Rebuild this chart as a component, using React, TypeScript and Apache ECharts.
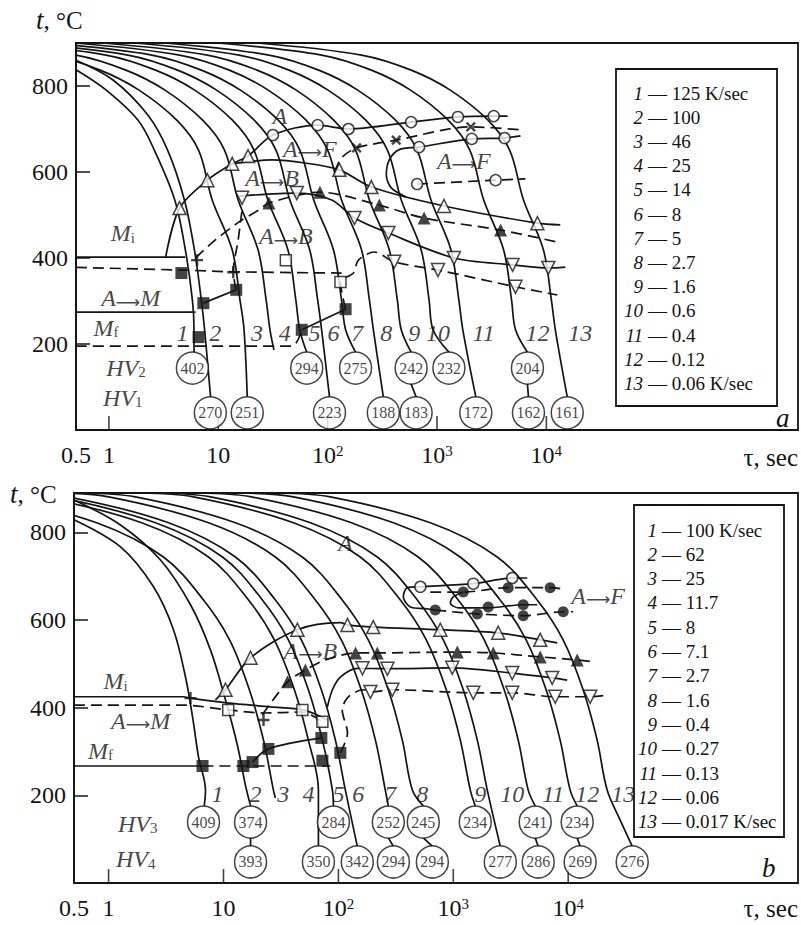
import { useEffect, useRef } from 'react';
import * as echarts from 'echarts';

const SERIF = '"Liberation Serif", "Times New Roman", serif';
const INK = '#141414';

type Pt = [number, number];

// ---------------- Panel a ----------------
// Cooling curves 1..13: [time, s ; temperature, °C]
const coolingA: Pt[][] = [
  [[0.5, 838], [0.94, 791], [1.84, 721], [2.6, 651], [4.0, 535], [5.0, 419], [5.8, 302], [6.0, 233], [6.0, 181]],
  [[0.5, 860], [1.09, 814], [2.26, 733], [3.44, 651], [4.9, 535], [6.05, 419], [7.0, 302], [7.5, 233], [8.5, 77]],
  [[0.032, 900], [0.29, 872], [0.83, 837], [1.87, 791], [4.15, 721], [6.6, 651], [8.8, 535], [13.4, 419], [15.8, 302], [17.2, 233], [18.4, 77]],
  [[0.056, 900], [0.5, 872], [1.43, 837], [3.23, 791], [7.16, 721], [11.4, 651], [15.2, 535], [23.1, 419], [27.4, 302], [29.7, 233], [32.3, 186]],
  [[0.104, 900], [0.94, 872], [2.67, 837], [6.04, 791], [13.4, 721], [21.2, 651], [28.4, 535], [43.3, 419], [51.2, 302], [55.6, 233], [64.4, 181]],
  [[0.165, 900], [1.49, 872], [4.24, 837], [9.57, 791], [21.2, 721], [33.7, 651], [45.1, 535], [68.5, 419], [81.1, 302], [88.1, 233], [104, 77]],
  [[0.274, 900], [2.46, 872], [7.0, 837], [15.8, 791], [35.2, 721], [55.7, 651], [74.6, 535], [113, 419], [134, 302], [146, 233], [180, 181]],
  [[0.49, 900], [4.42, 872], [12.6, 837], [28.4, 791], [63.1, 721], [100, 651], [134, 535], [204, 419], [241, 302], [262, 233], [323, 77]],
  [[0.88, 900], [7.94, 872], [22.6, 837], [51.2, 791], [113, 721], [180, 651], [241, 535], [366, 419], [434, 302], [471, 233], [580, 181]],
  [[1.73, 900], [15.5, 872], [44.3, 837], [100, 791], [222, 721], [352, 651], [471, 535], [716, 419], [847, 302], [920, 233], [1285, 181]],
  [[3.23, 900], [29, 872], [82.8, 837], [187, 791], [415, 721], [658, 651], [881, 535], [1340, 419], [1585, 302], [1722, 233], [2265, 77]],
  [[9.8, 900], [88, 872], [251, 837], [568, 791], [1259, 721], [1995, 651], [2673, 535], [4064, 419], [4808, 302], [5224, 233], [6714, 181]],
  [[22.6, 900], [204, 872], [581, 837], [1312, 791], [2911, 721], [4613, 651], [6180, 535], [9397, 419], [11117, 302], [12078, 233], [15524, 77]],
];

// Transformation lines, panel a
const miA: Pt[] = [[0.5, 402], [5.0, 402]];
const msDashA: Pt[] = [[0.5, 378], [4.6, 372], [13.4, 368], [134, 365]];
const mfA: Pt[] = [[0.5, 274], [6.2, 274]];
const mfDashA: Pt[] = [[0.5, 195], [47, 195], [58, 233]];
const squareLinkA: Pt[] = [[58, 233], [146, 281]];
const squareLink2A: Pt[] = [[7.3, 295], [14.6, 326]];
const lowDashA: Pt[] = [[146, 281], [131, 344], [172, 365], [191, 395], [267, 414], [406, 391], [1021, 372], [5224, 333], [12590, 314]];
const riseDashA: Pt[] = [[14.6, 326], [13.7, 367], [15.2, 442], [16.5, 512]];
const bainiteMidA: Pt[] = [[6.2, 400], [9.4, 442], [15.5, 484], [23.6, 512], [29.1, 528], [85, 553], [297, 523], [762, 493], [3820, 465], [12590, 437]];
const startA: Pt[] = [[3.3, 402], [4.42, 516], [7.94, 581], [13.4, 619], [18.7, 637], [31.6, 686], [81, 709], [155, 700], [580, 716], [1553, 728], [3300, 730], [4420, 730]];
const bainiteStartA: Pt[] = [[13.4, 619], [31, 628], [61.8, 621], [128, 605], [251, 565], [1158, 521], [8280, 481], [13400, 477]];
const bainiteEndA: Pt[] = [[15.5, 544], [52.2, 551], [109, 535], [176, 493], [359, 458], [1429, 400], [4910, 384], [10420, 377], [14890, 379]];
const noseA: Pt[] = [[522, 542], [382, 563], [344, 593], [366, 628], [451, 652], [686, 658], [2080, 677], [4150, 679], [5800, 684]];
const ferriteDashA: Pt[] = [[116, 600], [134, 633], [184, 656], [424, 674], [2037, 705], [5800, 698]];
const ferriteLowDashA: Pt[] = [[658, 572], [3436, 581], [6440, 584]];
const stemsA: Pt[][] = [[[580, 107], [644, 77]], [[6714, 107], [6860, 77]]];

// Point markers, panel a
const openCircleA: Pt[] = [[31.6, 686], [81, 709], [155, 700], [580, 716], [1553, 728], [3300, 730], [686, 658], [2080, 677], [4150, 679], [658, 572], [3436, 581]];
const openTriUpA: Pt[] = [[4.42, 516], [7.94, 581], [13.4, 619], [18.7, 637], [128, 605], [251, 565], [1158, 521], [8280, 481]];
const blackTriA: Pt[] = [[29.1, 528], [85, 553], [297, 523], [762, 493], [3820, 465]];
const openTriDownA: Pt[] = [[16.5, 540], [52.2, 551], [176, 493], [359, 458], [1429, 400], [4910, 384], [10420, 377], [406, 391], [1021, 372], [5224, 333]];
const blackSquareA: Pt[] = [[4.6, 365], [7.3, 295], [14.6, 326], [6.6, 216], [58, 233], [146, 281]];
const openSquareA: Pt[] = [[41.5, 395], [131, 344]];
const plusA: Pt[] = [[6.4, 395], [13.7, 367]];
const crossA: Pt[] = [[184, 656], [424, 674], [2037, 705]];

// Hardness circles, panel a
const hvUpperTimesA = [5.8, 64.4, 180, 580, 1285, 6714];
const hvUpperValuesA = [402, 294, 275, 242, 232, 204];
const hvLowerTimesA = [8.46, 18.4, 104, 323, 644, 2264, 6860, 15520];
const hvLowerValuesA = [270, 251, 223, 188, 183, 172, 162, 161];
const hvRowTempsA = [144, 40];

const curveLabelTimesA = [4.7, 9.4, 22.6, 40.6, 76, 113, 187, 344, 618, 1021, 2673, 8280, 20370];
const curveLabelTempA = 228;

const regionLabelsA: [number, number, string][] = [
  [36.6, 733, 'A'], [68.6, 656, 'A→F'], [31, 588, 'A→B'], [41.5, 453, 'A→B'], [1758, 628, 'A→F'],
  [1.34, 460, 'M_i'], [1.58, 309, 'A→M'], [0.94, 240, 'M_f'], [1.43, 147, 'HV_2'], [1.34, 77, 'HV_1'],
];

const ratesA = ['125 K/sec', '100', '46', '25', '14', '8', '5', '2.7', '1.6', '0.6', '0.4', '0.12', '0.06 K/sec'];

// ---------------- Panel b ----------------
const coolingB: Pt[][] = [
  [[0.5, 829], [1.27, 767], [2.46, 676], [3.67, 578], [4.67, 470], [5.38, 379], [6.06, 288], [6.97, 212], [6.8, 176]],
  [[0.5, 874], [1.27, 817], [2.83, 737], [5.16, 635], [7.7, 532], [10.4, 418], [13.2, 315], [15.5, 224], [17.2, 176]],
  [[0.037, 890], [0.106, 881], [0.787, 822], [3.0, 744], [6.7, 646], [11.3, 555], [16.8, 441], [22.3, 326], [27.2, 212], [28.3, 194]],
  [[0.09, 890], [0.261, 881], [1.94, 822], [7.4, 744], [16.5, 646], [27.7, 555], [41.4, 441], [54.8, 326], [67, 212], [67, 84]],
  [[0.12, 890], [0.346, 881], [2.56, 822], [9.8, 744], [21.8, 646], [36.7, 555], [54.8, 441], [72.6, 326], [88.7, 212], [90.5, 176]],
  [[0.155, 890], [0.449, 881], [3.33, 822], [12.7, 744], [28.3, 646], [47.6, 555], [71.1, 441], [94.2, 326], [115, 212], [146, 84]],
  [[0.346, 890], [1.0, 881], [7.41, 822], [28.3, 744], [63.1, 646], [106, 555], [158, 441], [210, 326], [256, 212], [272, 176]],
  [[0.593, 890], [1.71, 881], [12.7, 822], [48.5, 744], [108, 646], [182, 555], [272, 441], [360, 326], [440, 212], [548, 176]],
  [[1.9, 890], [5.48, 881], [40.6, 822], [155, 744], [346, 646], [582, 555], [869, 441], [1151, 326], [1406, 212], [1553, 176]],
  [[2.67, 890], [7.71, 881], [57.1, 822], [218, 744], [486, 646], [818, 555], [1222, 441], [1618, 326], [1977, 212], [2564, 84]],
  [[6.05, 890], [17.5, 881], [130, 822], [495, 744], [1104, 646], [1858, 555], [2773, 441], [3673, 326], [4487, 212], [5164, 176]],
  [[14, 890], [40.6, 881], [301, 822], [1148, 744], [2559, 646], [4305, 555], [6427, 441], [8511, 326], [10399, 212], [11970, 176]],
  [[29.4, 890], [85.1, 881], [631, 822], [2410, 744], [5370, 646], [9036, 555], [13490, 441], [17865, 326], [21827, 212], [28300, 144], [36060, 84]],
];

const miB: Pt[] = [[0.5, 425], [4.49, 425], [5.16, 422], [10.8, 411], [25.6, 402], [49.6, 395], [80.2, 372]];
const amDashB: Pt[] = [[0.5, 406], [4.49, 406], [11.0, 395], [22.3, 388], [48.6, 390], [72.6, 368]];
const mfB: Pt[] = [[0.5, 267], [6.57, 267]];
const mfDashB: Pt[] = [[6.57, 267], [85, 267]];
const squareLinkB: Pt[] = [[17.9, 276], [24.6, 306], [71.1, 331]];
const lowDashB: Pt[] = [[104, 297], [120, 342], [108, 395], [122, 425], [165, 441], [190, 436], [295, 441], [1493, 434], [3258, 434], [7710, 425], [15530, 425], [21830, 429]];
const noseB: Pt[] = [[80.2, 402], [88.7, 441], [104, 470], [146, 490], [267, 489], [980, 491], [3258, 479], [7260, 468], [9800, 463]];
const bainiteStartB: Pt[] = [[8.5, 418], [10.4, 441], [17.2, 514], [44, 578], [104, 594], [120, 589], [201, 584], [771, 578], [2460, 571], [5710, 555], [8020, 548]];
const bainiteMidB: Pt[] = [[21.8, 384], [36.1, 459], [51.6, 486], [77, 509], [141, 525], [218, 525], [1084, 527], [2228, 525], [5710, 516], [11970, 509], [16180, 505]];
const ferriteLoopB: Pt[] = [[697, 623], [571, 626], [423, 630], [367, 653], [398, 674], [517, 676], [1493, 683], [3258, 696], [4400, 696]];
const ferriteDashB: Pt[] = [[631, 664], [1222, 664], [3006, 674], [6970, 674], [9050, 671]];
const ferriteLoop2B: Pt[] = [[1222, 664], [1000, 653], [942, 639], [1105, 628], [1977, 628], [4064, 635], [5370, 635]];
const ferriteLowDashB: Pt[] = [[697, 623], [1618, 614], [4064, 610], [9050, 619], [11040, 619]];
const stemsB: Pt[][] = [
  [[17.2, 103], [17.2, 84]], [[272, 103], [301, 84]], [[548, 103], [657, 84]], [[5164, 103], [5480, 84]], [[11970, 103], [12710, 84]],
];

const openCircleB: Pt[] = [[517, 676], [1493, 683], [3258, 696]];
const blackCircleB: Pt[] = [[1222, 664], [3006, 674], [6970, 674], [697, 623], [1618, 614], [2015, 630], [4064, 635], [4064, 610], [9050, 619]];
const openTriUpB: Pt[] = [[10.4, 441], [17.2, 514], [44, 578], [120, 589], [201, 584], [771, 578], [2460, 571], [5710, 555]];
const blackTriB: Pt[] = [[36.1, 459], [51.6, 486], [141, 525], [218, 525], [1084, 527], [2228, 525], [5710, 516], [11970, 509]];
const openTriDownB: Pt[] = [[162, 490], [267, 489], [980, 491], [3258, 479], [7260, 468], [190, 436], [295, 441], [1493, 434], [3258, 434], [7710, 425], [15530, 425]];
const blackSquareB: Pt[] = [[6.57, 267], [14.9, 267], [17.9, 276], [24.6, 306], [71.1, 331], [72.6, 279], [104, 297]];
const openSquareB: Pt[] = [[11.0, 395], [48.6, 395], [72.6, 368]];
const plusB: Pt[] = [[5.16, 422], [22.3, 372]];

const hvUpperTimesB = [6.7, 17.2, 90.5, 272, 548, 1553, 5164, 11970];
const hvUpperValuesB = [409, 374, 284, 252, 245, 234, 241, 234];
const hvLowerTimesB = [17.2, 67, 146, 301, 657, 2564, 5480, 12710, 36060];
const hvLowerValuesB = [393, 350, 342, 294, 294, 277, 286, 269, 276];
const hvRowTempsB = [139, 48];

const curveLabelTimesB = [8.87, 19, 33.2, 54.8, 100, 149, 283, 537, 1718, 3258, 7413, 14620, 30090];
const curveLabelTempB = 205;

const regionLabelsB: [number, number, string][] = [
  [115, 778, 'A'], [18230, 658, 'A→F'], [57.1, 532, 'A→B'],
  [1.15, 463, 'M_i'], [1.9, 372, 'A→M'], [0.85, 304, 'M_f'], [1.79, 137, 'HV_3'], [1.72, 57, 'HV_4'],
];

const ratesB = ['100 K/sec', '62', '25', '11.7', '8', '7.1', '2.7', '1.6', '0.4', '0.27', '0.13', '0.06', '0.017 K/sec'];

// Axis decorations
const decadeTicks = [1, 10, 100, 1000, 10000];
const tempTicks = [200, 400, 600, 800];

// ---------------- helpers ----------------
const RICH: Record<string, any> = {
  i: { fontFamily: SERIF, fontStyle: 'italic', fontSize: 24, color: INK, lineHeight: 26, verticalAlign: 'bottom' },
  r: { fontFamily: '"DejaVu Sans", sans-serif', fontSize: 17, color: INK, lineHeight: 26, verticalAlign: 'bottom' },
  sub: { fontFamily: SERIF, fontSize: 15, color: INK, lineHeight: 12, verticalAlign: 'bottom' },
};

function richText(s: string): string {
  if (s.includes('→')) {
    const [a, b] = s.split('→');
    return `{i|${a}}{r|⟶}{i|${b}}`;
  }
  if (s.includes('_')) {
    const [a, b] = s.split('_');
    return `{i|${a}}{sub|${b}}`;
  }
  return `{i|${s}}`;
}

function line(grid: number, data: Pt[], dashed = false, smooth: number = 0.3) {
  return {
    type: 'line', xAxisIndex: grid, yAxisIndex: grid, data, symbol: 'none', smooth,
    silent: true, z: 2,
    lineStyle: { color: INK, width: 1.7, type: dashed ? [11, 6] : 'solid' },
  };
}

const PLUS = 'path://M4,0H6V4H10V6H6V10H4V6H0V4H4Z';

function markers(grid: number, data: Pt[], kind: string) {
  const base: any = {
    type: 'scatter', xAxisIndex: grid, yAxisIndex: grid, data, silent: true, z: 4, clip: false,
    itemStyle: { color: '#fff', borderColor: INK, borderWidth: 1.5 },
  };
  switch (kind) {
    case 'openCircle': return { ...base, symbol: 'circle', symbolSize: 11 };
    case 'blackCircle': return { ...base, symbol: 'circle', symbolSize: 11, itemStyle: { color: INK } };
    case 'openTriUp': return { ...base, symbol: 'triangle', symbolSize: 13 };
    case 'openTriDown': return { ...base, symbol: 'triangle', symbolSize: 13, symbolRotate: 180 };
    case 'blackTri': return { ...base, symbol: 'triangle', symbolSize: 13, itemStyle: { color: INK } };
    case 'blackSquare': return { ...base, symbol: 'rect', symbolSize: 12, itemStyle: { color: INK } };
    case 'openSquare': return { ...base, symbol: 'rect', symbolSize: 11 };
    case 'plus': return { ...base, symbol: PLUS, symbolSize: 12, itemStyle: { color: INK } };
    default: return { ...base, symbol: PLUS, symbolSize: 12, symbolRotate: 45, itemStyle: { color: INK } };
  }
}

function hvCircles(grid: number, times: number[], values: number[], temp: number) {
  return {
    type: 'scatter', xAxisIndex: grid, yAxisIndex: grid, silent: true, z: 5, clip: false,
    data: times.map((t, k) => ({ value: [t, temp], name: String(values[k]) })),
    symbol: 'circle', symbolSize: 32,
    itemStyle: { color: '#fff', borderColor: INK, borderWidth: 1.5 },
    label: { show: true, position: 'inside', formatter: '{b}', fontFamily: SERIF, fontSize: 16, color: INK },
  };
}

function texts(grid: number, items: [number, number, string][]) {
  return {
    type: 'scatter', xAxisIndex: grid, yAxisIndex: grid, silent: true, z: 6, clip: false,
    data: items.map(([t, T, s]) => ({ value: [t, T], name: s })),
    symbol: 'circle', symbolSize: 1, itemStyle: { color: 'rgba(0,0,0,0)' },
    label: { show: true, position: 'inside', formatter: (p: any) => richText(p.name), rich: RICH },
  };
}

function curveNumbers(grid: number, times: number[], temp: number) {
  return texts(grid, times.map((t, k) => [t, temp, String(k + 1)] as [number, number, string]));
}

function ticks(grid: number) {
  return {
    type: 'scatter', xAxisIndex: grid, yAxisIndex: grid, silent: true, z: 3, clip: false,
    data: decadeTicks.map((t) => [t, 0]),
    symbol: 'rect', symbolSize: [1.6, 14], symbolOffset: [0, -7], itemStyle: { color: INK },
  };
}

function timeLabel(v: number): string {
  if (Math.abs(v - 0.5) < 1e-9) return '{b|0.5}';
  const L = Math.log10(v);
  const r = Math.round(L);
  if (Math.abs(L - r) > 1e-6 || r < 0 || r > 4) return '';
  if (r === 0) return '{b|1}';
  if (r === 1) return '{b|10}';
  return `{b|10}{s|${r}}`;
}

function xAxis(grid: number, max: number) {
  return {
    type: 'log', logBase: 10, gridIndex: grid, min: 0.5, max,
    axisLine: { show: true, lineStyle: { color: INK, width: 1.8 } },
    axisTick: { show: false },
    minorTick: { show: false },
    splitLine: { show: false },
    axisLabel: {
      margin: 13, formatter: timeLabel, color: INK,
      rich: {
        b: { fontFamily: SERIF, fontSize: 24, color: INK, lineHeight: 28, verticalAlign: 'top' },
        s: { fontFamily: SERIF, fontSize: 15, color: INK, lineHeight: 14, verticalAlign: 'top' },
      },
    },
  };
}

function yAxis(grid: number, max: number) {
  return {
    type: 'value', gridIndex: grid, min: 0, max, interval: 200,
    axisLine: { show: true, lineStyle: { color: INK, width: 1.8 } },
    axisTick: { show: true, inside: true, length: 14, lineStyle: { color: INK, width: 1.5 } },
    splitLine: { show: false },
    axisLabel: {
      margin: 8, fontFamily: SERIF, fontSize: 24, color: INK,
      formatter: (v: number) => (tempTicks.includes(v) ? String(v) : ''),
    },
  };
}

function legendBox(x: number, y: number, w: number, h: number, rates: string[], firstY: number, step: number, numRight: number) {
  const children: any[] = [
    { type: 'rect', shape: { x, y, width: w, height: h }, style: { fill: '#fff', stroke: INK, lineWidth: 1.8 }, z: 10 },
  ];
  rates.forEach((r, k) => {
    const cy = firstY + step * k;
    children.push({
      type: 'text', z: 11,
      style: { x: numRight, y: cy, text: String(k + 1), fill: INK, font: `italic 19px ${SERIF}`, align: 'right', verticalAlign: 'middle', textAlign: 'right', textVerticalAlign: 'middle' },
    });
    children.push({
      type: 'text', z: 11,
      style: { x: numRight + 5, y: cy, text: `— ${r}`, fill: INK, font: `19px ${SERIF}`, align: 'left', verticalAlign: 'middle', textAlign: 'left', textVerticalAlign: 'middle' },
    });
  });
  return children;
}

function caption(x: number, y: number, text: string, align = 'left') {
  return {
    type: 'text', z: 11,
    style: {
      x, y, text, fill: INK, font: `25px ${SERIF}`, align, verticalAlign: 'middle', textAlign: align, textVerticalAlign: 'middle',
      rich: { i: { fontFamily: SERIF, fontStyle: 'italic', fontSize: 27, color: INK }, n: { fontFamily: SERIF, fontSize: 25, color: INK } },
    },
  };
}

function buildOption() {
  const series: any[] = [];
  const panel = (g: number, curves: Pt[][], solids: Pt[][], dashes: Pt[][]) => {
    curves.forEach((c) => series.push(line(g, c, false, 0.35)));
    solids.forEach((c) => series.push(line(g, c, false, 0.3)));
    dashes.forEach((c) => series.push(line(g, c, true, 0.3)));
  };

  panel(0, coolingA,
    [miA, mfA, squareLinkA, squareLink2A, startA, bainiteStartA, bainiteEndA, noseA, ...stemsA],
    [msDashA, mfDashA, lowDashA, riseDashA, bainiteMidA, ferriteDashA, ferriteLowDashA]);
  series.push(
    markers(0, openCircleA, 'openCircle'), markers(0, openTriUpA, 'openTriUp'), markers(0, blackTriA, 'blackTri'),
    markers(0, openTriDownA, 'openTriDown'), markers(0, blackSquareA, 'blackSquare'), markers(0, openSquareA, 'openSquare'),
    markers(0, plusA, 'plus'), markers(0, crossA, 'cross'),
    hvCircles(0, hvUpperTimesA, hvUpperValuesA, hvRowTempsA[0]), hvCircles(0, hvLowerTimesA, hvLowerValuesA, hvRowTempsA[1]),
    curveNumbers(0, curveLabelTimesA, curveLabelTempA), texts(0, regionLabelsA), ticks(0),
  );

  panel(1, coolingB,
    [miB, mfB, squareLinkB, noseB, bainiteStartB, ferriteLoopB, ferriteLoop2B, ...stemsB],
    [amDashB, mfDashB, lowDashB, bainiteMidB, ferriteDashB, ferriteLowDashB]);
  series.push(
    markers(1, openCircleB, 'openCircle'), markers(1, blackCircleB, 'blackCircle'), markers(1, openTriUpB, 'openTriUp'),
    markers(1, blackTriB, 'blackTri'), markers(1, openTriDownB, 'openTriDown'), markers(1, blackSquareB, 'blackSquare'),
    markers(1, openSquareB, 'openSquare'), markers(1, plusB, 'plus'),
    hvCircles(1, hvUpperTimesB, hvUpperValuesB, hvRowTempsB[0]), hvCircles(1, hvLowerTimesB, hvLowerValuesB, hvRowTempsB[1]),
    curveNumbers(1, curveLabelTimesB, curveLabelTempB), texts(1, regionLabelsB), ticks(1),
  );

  return {
    animation: false,
    backgroundColor: '#fff',
    textStyle: { fontFamily: SERIF },
    grid: [
      { left: 76, top: 43, width: 723, height: 387, show: true, borderColor: INK, borderWidth: 1.8, backgroundColor: 'transparent' },
      { left: 74, top: 493, width: 724, height: 390, show: true, borderColor: INK, borderWidth: 1.8, backgroundColor: 'transparent' },
    ],
    xAxis: [xAxis(0, 2e6), xAxis(1, 1e6)],
    yAxis: [yAxis(0, 900), yAxis(1, 890)],
    series,
    graphic: [
      ...legendBox(616, 69, 161, 337, ratesA, 93, 24.2, 643),
      ...legendBox(634, 505, 150, 332, ratesB, 530, 24.3, 657),
      caption(36, 20, '{i|t}{n|, °C}'),
      caption(10, 494, '{i|t}{n|, °C}'),
      caption(798, 457, '{n|τ, sec}', 'right'),
      caption(798, 908, '{n|τ, sec}', 'right'),
      caption(776, 418, '{i|a}'),
      caption(762, 868, '{i|b}'),
    ],
  };
}

export default function App() {
  const ref = useRef<HTMLDivElement>(null);
  useEffect(() => {
    document.body.style.margin = '0';
    const chart = echarts.init(ref.current!, undefined, { renderer: 'svg' });
    chart.setOption(buildOption() as any);
    return () => chart.dispose();
  }, []);
  return <div ref={ref} style={{ width: 801, height: 925 }} />;
}
